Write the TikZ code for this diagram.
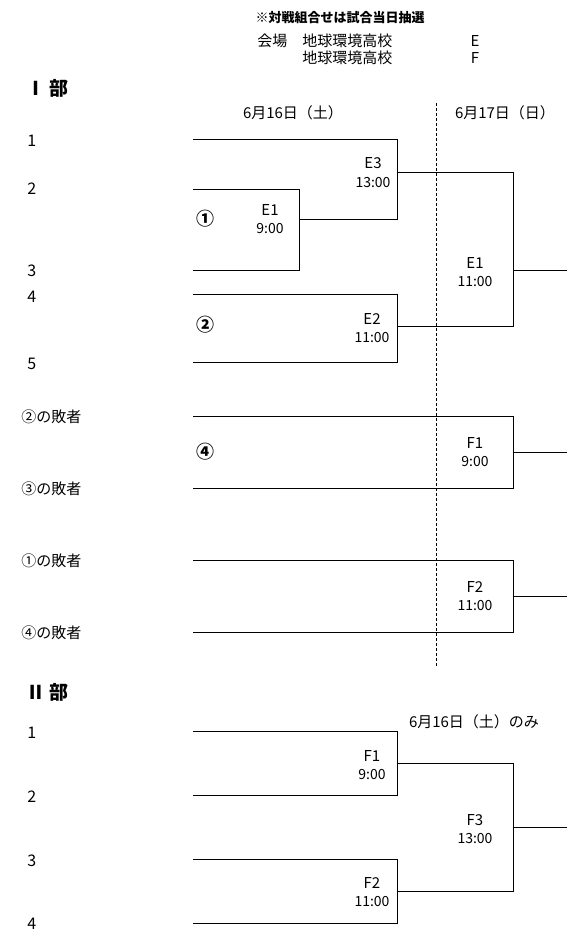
\documentclass[tikz,border=0pt]{standalone}
\usepackage{fontspec}
\setmainfont{Noto Sans CJK JP}
\begin{document}
\begin{tikzpicture}[x=1pt,y=-1pt,line width=0.9pt,
  teamlbl/.style={anchor=west,inner sep=0pt,font=\fontsize{15}{18}\selectfont},
  numlbl/.style={anchor=west,inner sep=0pt,font=\fontsize{16}{18}\selectfont},
  datelbl/.style={inner sep=0pt,font=\fontsize{15}{18}\selectfont},
  divlbl/.style={anchor=west,inner sep=0pt,font=\bfseries\fontsize{19}{22}\selectfont},
  seedlbl/.style={inner sep=0pt,font=\bfseries\fontsize{18}{20}\selectfont},
  matchlbl/.style={align=center,inner sep=0pt,font=\fontsize{15}{18.5}\selectfont},
  dayline/.style={line width=0.6pt,dash pattern=on 3pt off 2pt}]
  \useasboundingbox (0,0) rectangle (567,944);

  \node[inner sep=0pt,font=\bfseries\fontsize{13}{15}\selectfont] (note) at (340,18) {※対戦組合せは試合当日抽選};
  \node[teamlbl] (venue) at (257,41) {会場};
  \node[teamlbl] (siteE) at (302,41) {地球環境高校};
  \node[datelbl] (courtE) at (475,41) {E};
  \node[teamlbl] (siteF) at (302,58) {地球環境高校};
  \node[datelbl] (courtF) at (475,58) {F};

  % I bu
  \node[divlbl] (div1) at (26,88) {Ⅰ 部};
  \node[datelbl] (day1) at (293,113) {6月16日（土）};
  \node[datelbl] (day2) at (505,113) {6月17日（日）};
  \coordinate (cuttop) at (436,103);
  \coordinate (cutbot) at (436,667);
  \draw[dayline] (cuttop) -- (cutbot);

  \node[numlbl] (a1) at (27,141) {1};
  \node[numlbl] (a2) at (27,189) {2};
  \node[numlbl] (a3) at (27,271) {3};
  \node[numlbl] (a4) at (27,297) {4};
  \node[numlbl] (a5) at (27,364) {5};
  \coordinate (s1) at (193,139);
  \coordinate (s2) at (193,189);
  \coordinate (s3) at (193,270);
  \coordinate (s4) at (193,294);
  \coordinate (s5) at (193,362);
  \coordinate (m1) at (299,219);
  \coordinate (m2) at (397,326);
  \coordinate (m3) at (397,172);
  \coordinate (m4) at (513,270);
  \coordinate (o4) at (567,270);

  \draw (s2) -| (m1);
  \draw (s3) -| (m1);
  \draw (s1) -| (m3);
  \draw (m1) -| (m3);
  \draw (s4) -| (m2);
  \draw (s5) -| (m2);
  \draw (m3) -| (m4);
  \draw (m2) -| (m4);
  \draw (m4) -- (o4);

  \node[seedlbl] (c1) at (205,219) {①};
  \node[seedlbl] (c2) at (205,325) {②};
  \node[matchlbl] (e1a) at (270,219) {E1\\{\fontsize{14}{18}\selectfont 9:00}};
  \node[matchlbl] (e3) at (373,172.5) {E3\\{\fontsize{14}{18}\selectfont 13:00}};
  \node[matchlbl] (e2) at (372,328) {E2\\{\fontsize{14}{18}\selectfont 11:00}};
  \node[matchlbl] (e1b) at (475,272) {E1\\{\fontsize{14}{18}\selectfont 11:00}};

  \node[teamlbl] (l2) at (21,417) {②の敗者};
  \node[teamlbl] (l3) at (21,489) {③の敗者};
  \node[teamlbl] (l1) at (21,561) {①の敗者};
  \node[teamlbl] (l4) at (21,633) {④の敗者};
  \coordinate (s6) at (193,416);
  \coordinate (s7) at (193,488);
  \coordinate (s8) at (193,560);
  \coordinate (s9) at (193,632);
  \coordinate (m5) at (513,452);
  \coordinate (m6) at (513,596);
  \coordinate (o5) at (567,452);
  \coordinate (o6) at (567,596);
  \draw (s6) -| (m5);
  \draw (s7) -| (m5);
  \draw (m5) -- (o5);
  \draw (s8) -| (m6);
  \draw (s9) -| (m6);
  \draw (m6) -- (o6);
  \node[seedlbl] (c4) at (205,452) {④};
  \node[matchlbl] (f1a) at (475,452) {F1\\{\fontsize{14}{18}\selectfont 9:00}};
  \node[matchlbl] (f2a) at (475,596) {F2\\{\fontsize{14}{18}\selectfont 11:00}};

  % II bu
  \node[divlbl] (div2) at (26,692) {Ⅱ 部};
  \node[datelbl] (day3) at (474,722) {6月16日（土）のみ};
  \node[numlbl] (b1) at (27,733) {1};
  \node[numlbl] (b2) at (27,797) {2};
  \node[numlbl] (b3) at (27,861) {3};
  \node[numlbl] (b4) at (27,924) {4};
  \coordinate (t1) at (193,731);
  \coordinate (t2) at (193,795);
  \coordinate (t3) at (193,859);
  \coordinate (t4) at (193,923);
  \coordinate (n1) at (397,763);
  \coordinate (n2) at (397,891);
  \coordinate (n3) at (513,827);
  \coordinate (o7) at (567,827);
  \draw (t1) -| (n1);
  \draw (t2) -| (n1);
  \draw (t3) -| (n2);
  \draw (t4) -| (n2);
  \draw (n1) -| (n3);
  \draw (n2) -| (n3);
  \draw (n3) -- (o7);
  \node[matchlbl] (f1b) at (372,765) {F1\\{\fontsize{14}{18}\selectfont 9:00}};
  \node[matchlbl] (f2b) at (372,892) {F2\\{\fontsize{14}{18}\selectfont 11:00}};
  \node[matchlbl] (f3b) at (475,829) {F3\\{\fontsize{14}{18}\selectfont 13:00}};
\end{tikzpicture}
\end{document}
